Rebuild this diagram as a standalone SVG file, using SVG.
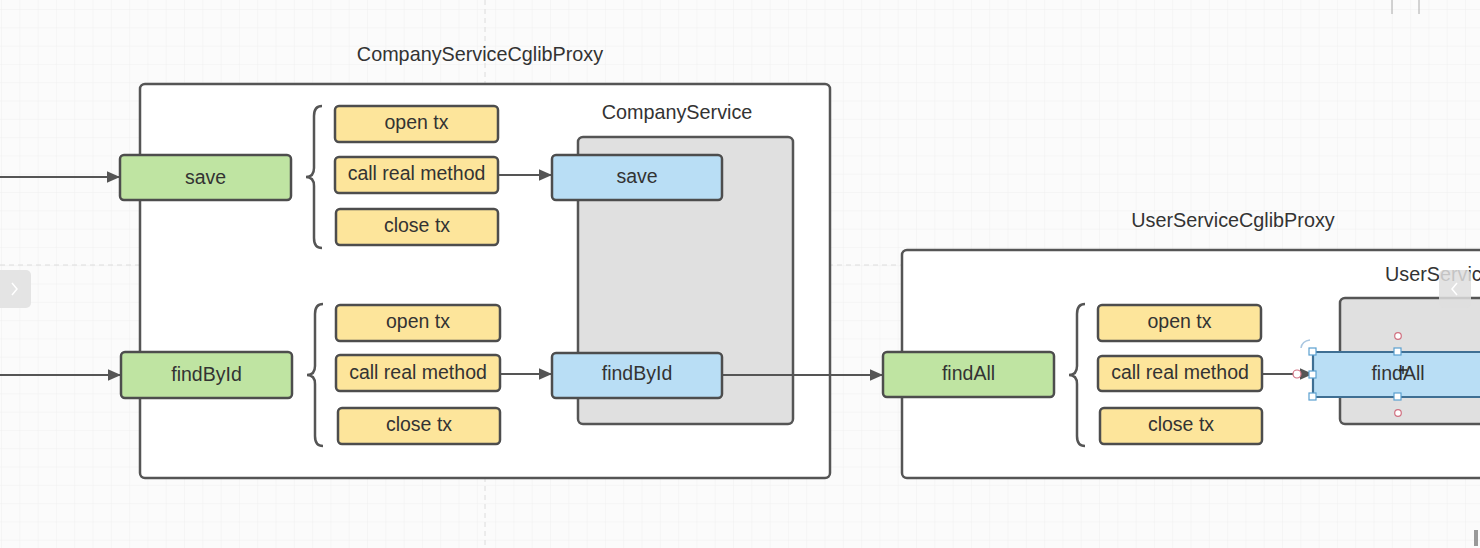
<svg xmlns="http://www.w3.org/2000/svg" width="1480" height="548" viewBox="0 0 1480 548">
<style>
.t{font-family:"Liberation Sans",Arial,sans-serif;font-size:19.5px;fill:#333;text-anchor:middle;dominant-baseline:central}
.title{font-family:"Liberation Sans",Arial,sans-serif;font-size:19.8px;fill:#333;text-anchor:middle}
.frame{fill:#fff;stroke:#555;stroke-width:2.5}
.svc{fill:#e0e0e0;stroke:#555;stroke-width:2.5}
.green{fill:#bfe4a2;stroke:#4d4d4d;stroke-width:2.5}
.yellow{fill:#fde59b;stroke:#4d4d4d;stroke-width:2.5}
.blue{fill:#b9def5;stroke:#4d4d4d;stroke-width:2.5}
.brace{fill:none;stroke:#555;stroke-width:2.5}
.conn{fill:none;stroke:#555;stroke-width:2}
.hs{fill:#fff;stroke:#5aa0d0;stroke-width:1.2}
.hc{fill:#fff;stroke:#d07080;stroke-width:1.2}
</style>
<defs>
<pattern id="grid" width="18.3" height="18.3" patternUnits="userSpaceOnUse" x="2" y="10">
<path d="M18.3 0V18.3H0" fill="none" stroke="#efefef" stroke-width="1"/>
</pattern>
<marker id="arrw" viewBox="0 0 10 10" refX="10" refY="5" markerWidth="17" markerHeight="13" markerUnits="userSpaceOnUse" orient="auto">
<path d="M0 0.5L10 5L0 9.5z" fill="#555"/>
</marker>
</defs>
<rect width="1480" height="548" fill="#fbfbfb"/>
<rect width="1480" height="548" fill="url(#grid)"/>
<line x1="485" y1="0" x2="485" y2="548" stroke="#dcdcdc" stroke-width="1" stroke-dasharray="5,4"/>
<line x1="0" y1="265" x2="1480" y2="265" stroke="#dcdcdc" stroke-width="1" stroke-dasharray="5,4"/>

<g id="companyProxy">
<rect class="frame" x="140" y="84" width="690" height="394" rx="5"/>
<text class="title" x="480" y="61">CompanyServiceCglibProxy</text>
</g>
<g id="userProxy">
<rect class="frame" x="902" y="250" width="600" height="228" rx="5"/>
<text class="title" x="1233" y="227">UserServiceCglibProxy</text>
</g>
<g id="companyService">
<rect class="svc" x="578" y="137" width="215" height="287" rx="5"/>
<text class="title" x="677" y="119">CompanyService</text>
</g>
<g id="userService">
<rect class="svc" x="1340" y="298" width="160" height="126" rx="5"/>
<text class="title" x="1385" y="281" style="text-anchor:start">UserService</text>
</g>

<g id="connectors">
<line class="conn" x1="0" y1="177" x2="120" y2="177" marker-end="url(#arrw)"/>
<line class="conn" x1="0" y1="375" x2="121" y2="375" marker-end="url(#arrw)"/>
<line class="conn" x1="498" y1="175" x2="552" y2="175" marker-end="url(#arrw)"/>
<line class="conn" x1="500" y1="374" x2="552" y2="374" marker-end="url(#arrw)"/>
<line class="conn" x1="722" y1="375" x2="883" y2="375" marker-end="url(#arrw)"/>
<line class="conn" x1="1262" y1="374" x2="1313" y2="374" marker-end="url(#arrw)"/>
<path class="brace" d="M322 106Q314 106 314 116V168Q314 177 306 177Q314 177 314 186V238Q314 248 322 248"/>
<path class="brace" d="M323 304Q315 304 315 314V366Q315 375 307 375Q315 375 315 384V436Q315 446 323 446"/>
<path class="brace" d="M1085 304Q1077 304 1077 314V366Q1077 375 1069 375Q1077 375 1077 384V436Q1077 446 1085 446"/>
</g>

<g id="save-proxy"><rect class="green" x="120" y="155" width="171" height="45" rx="4"/><text class="t" x="205.5" y="177">save</text></g>
<g id="findById-proxy"><rect class="green" x="121" y="352" width="171" height="46" rx="4"/><text class="t" x="206.5" y="374">findById</text></g>
<g id="findAll-proxy"><rect class="green" x="883" y="352" width="171" height="45" rx="4"/><text class="t" x="968.5" y="373">findAll</text></g>

<g id="save-open"><rect class="yellow" x="335" y="106" width="163" height="36" rx="4"/><text class="t" x="416.5" y="122">open tx</text></g>
<g id="save-call"><rect class="yellow" x="335" y="157" width="163" height="36" rx="4"/><text class="t" x="416.5" y="173">call real method</text></g>
<g id="save-close"><rect class="yellow" x="336" y="209" width="162" height="36" rx="4"/><text class="t" x="417" y="225">close tx</text></g>

<g id="findById-open"><rect class="yellow" x="336" y="305" width="164" height="36" rx="4"/><text class="t" x="418" y="321">open tx</text></g>
<g id="findById-call"><rect class="yellow" x="336" y="355" width="164" height="36" rx="4"/><text class="t" x="418" y="372">call real method</text></g>
<g id="findById-close"><rect class="yellow" x="338" y="408" width="162" height="36" rx="4"/><text class="t" x="419" y="424">close tx</text></g>

<g id="findAll-open"><rect class="yellow" x="1098" y="305" width="163" height="36" rx="4"/><text class="t" x="1179.5" y="321">open tx</text></g>
<g id="findAll-call"><rect class="yellow" x="1098" y="356" width="164" height="35" rx="4"/><text class="t" x="1180" y="372">call real method</text></g>
<g id="findAll-close"><rect class="yellow" x="1100" y="408" width="162" height="36" rx="4"/><text class="t" x="1181" y="424">close tx</text></g>

<g id="save-real"><rect class="blue" x="552" y="155" width="170" height="45" rx="4"/><text class="t" x="637" y="176">save</text></g>
<g id="findById-real"><rect class="blue" x="552" y="353" width="170" height="45" rx="4"/><text class="t" x="637" y="373">findById</text></g>
<g id="findAll-real"><rect x="1313" y="352" width="190" height="45" rx="2" fill="#b9def5" stroke="#3f6f93" stroke-width="2.2"/><text class="t" x="1398" y="373">findAll</text></g>

<g id="selection">
<circle class="hc" cx="1297" cy="374" r="4"/>
<circle class="hc" cx="1398" cy="336" r="3.3"/>
<circle class="hc" cx="1398" cy="413" r="3.3"/>
<rect class="hs" x="1309" y="348" width="7" height="7"/>
<rect class="hs" x="1394" y="348" width="7" height="7"/>
<rect class="hs" x="1309" y="371" width="7" height="7"/>
<rect class="hs" x="1309" y="393" width="7" height="7"/>
<rect class="hs" x="1394" y="393" width="7" height="7"/>
<path d="M1301 348Q1302 341 1310 340" fill="none" stroke="#a9c6e0" stroke-width="1.5"/>
<path d="M1403 366V374M1399 370H1407" stroke="#222" stroke-width="1.4"/>
</g>

<g id="ui">
<rect x="-6" y="270" width="37" height="38" rx="5" fill="#e4e4e4"/>
<path d="M12 283L17 289L12 295" fill="none" stroke="#fff" stroke-width="1.5"/>
<rect x="1439" y="270" width="32" height="38" rx="5" fill="#dedede" opacity="0.85"/>
<path d="M1457 283L1452 289L1457 295" fill="none" stroke="#fff" stroke-width="1.5"/>
<line x1="1392" y1="0" x2="1392" y2="14" stroke="#aaa" stroke-width="1"/>
<line x1="1419" y1="0" x2="1419" y2="14" stroke="#aaa" stroke-width="1"/>
<rect x="1474" y="530" width="4" height="16" fill="#999"/>
</g>
</svg>
